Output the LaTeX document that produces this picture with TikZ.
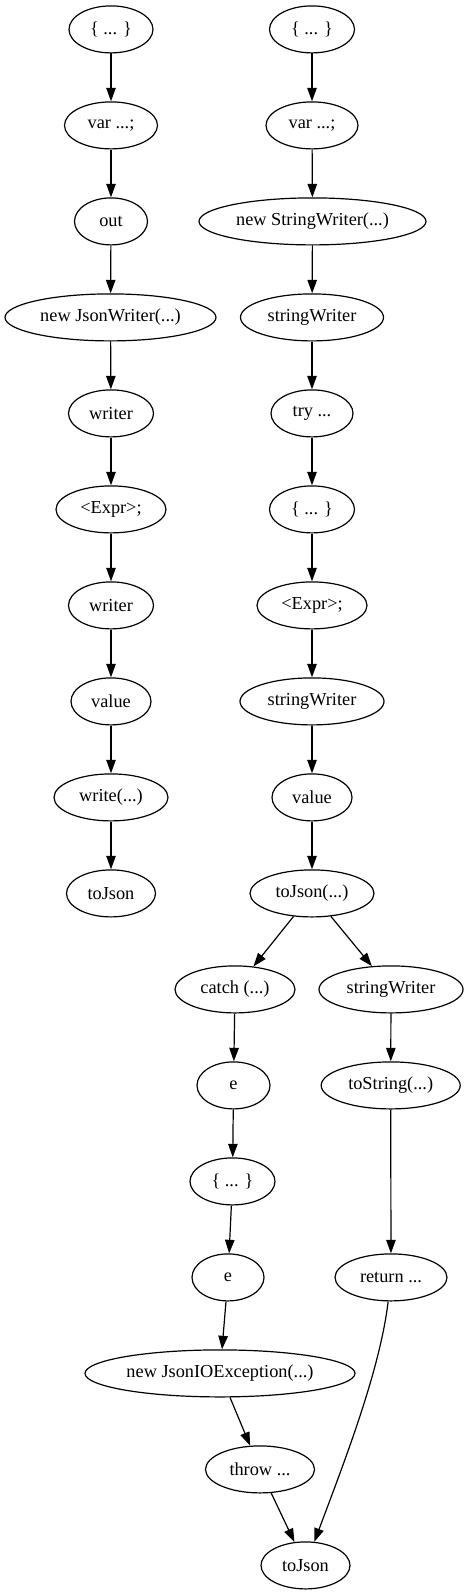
\documentclass[tikz,border=0pt]{standalone}
\usepackage{fontspec}
\setmainfont{Liberation Serif}
\usetikzlibrary{shapes.geometric,arrows.meta}
\tikzset{
  nd/.style={ellipse, draw, line width=1.2pt, minimum height=47pt, inner sep=0pt, font=\fontsize{18.3}{20}\selectfont},
  ed/.style={line width=1.2pt, -{Triangle[length=13.5pt,width=9.5pt]}}
}
\begin{document}
\begin{tikzpicture}[x=1pt,y=-1pt]
\useasboundingbox (0,0) rectangle (468,1595);
% left column
\node[nd, minimum width=84pt] (L0) at (111,29.4) {\{ ... \}};
\node[nd, minimum width=93pt] (L1) at (111,125.4) {var ...;};
\node[nd, minimum width=73pt] (L2) at (111,221.4) {out};
\node[nd, minimum width=211pt] (L3) at (110.5,317.4) {new JsonWriter(...)};
\node[nd, minimum width=85pt] (L4) at (111,413.4) {writer};
\node[nd, minimum width=110pt] (L5) at (111,509.4) {<Expr>;};
\node[nd, minimum width=85pt] (L6) at (111,605.4) {writer};
\node[nd, minimum width=80pt] (L7) at (111,701.4) {value};
\node[nd, minimum width=114pt] (L8) at (111,797.4) {write(...)};
\node[nd, minimum width=89pt] (L9) at (111,893.4) {toJson};
% right column
\node[nd, minimum width=85pt] (R0) at (312,29.4) {\{ ... \}};
\node[nd, minimum width=92pt] (R1) at (312,125.4) {var ...;};
\node[nd, minimum width=227pt] (R2) at (312.5,221.4) {new StringWriter(...)};
\node[nd, minimum width=143pt] (R3) at (312,317.4) {stringWriter};
\node[nd, minimum width=82pt] (R4) at (312,413.4) {try ...};
\node[nd, minimum width=85pt] (R5) at (312,509.4) {\{ ... \}};
\node[nd, minimum width=110pt] (R6) at (312,605.4) {<Expr>;};
\node[nd, minimum width=144pt] (R7) at (312,701.4) {stringWriter};
\node[nd, minimum width=80pt] (R8) at (312,797.4) {value};
\node[nd, minimum width=124pt] (R9) at (312,893.4) {toJson(...)};
\node[nd, minimum width=120pt] (Ca) at (235,989.4) {catch (...)};
\node[nd, minimum width=144pt] (Sw) at (391,989.4) {stringWriter};
\node[nd, minimum width=73pt] (E1) at (233.5,1085.4) {e};
\node[nd, minimum width=139pt] (Ts) at (390.7,1085.4) {toString(...)};
\node[nd, minimum width=85pt] (Bl) at (232.5,1181.4) {\{ ... \}};
\node[nd, minimum width=72pt] (E2) at (228,1277.4) {e};
\node[nd, minimum width=112pt] (Rt) at (391,1277.4) {return ...};
\node[nd, minimum width=270pt] (Ex) at (220,1373.4) {new JsonIOException(...)};
\node[nd, minimum width=109pt] (Th) at (260,1469.4) {throw ...};
\node[nd, minimum width=89pt] (Tj) at (305.5,1565.4) {toJson};
% edges
\foreach \a/\b in {L0/L1,L1/L2,L2/L3,L3/L4,L4/L5,L5/L6,L6/L7,L7/L8,L8/L9,
  R0/R1,R1/R2,R2/R3,R3/R4,R4/R5,R5/R6,R6/R7,R7/R8,R8/R9,
  R9/Ca,R9/Sw,Ca/E1,E1/Bl,Bl/E2,E2/Ex,Ex/Th,Th/Tj,Sw/Ts,Ts/Rt}
  \draw[ed] (\a) -- (\b);
\draw[ed] (Rt) .. controls (380,1370) and (345,1460) .. (Tj);
\end{tikzpicture}
\end{document}
